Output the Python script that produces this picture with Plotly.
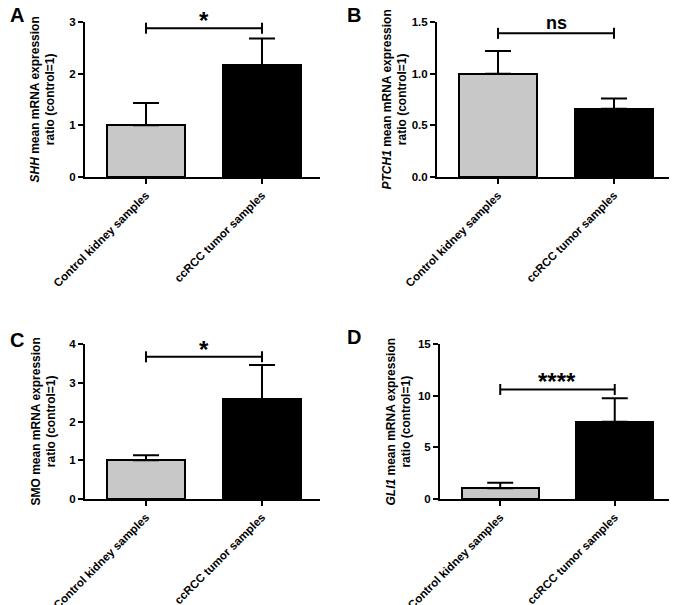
import plotly.graph_objects as go

categories = ["Control kidney samples", "ccRCC tumor samples"]
panel_letters = ["A", "B", "C", "D"]
genes = ["SHH", "PTCH1", "SMO", "GLI1"]
means = {
    "SHH": [1.0, 2.17],
    "PTCH1": [1.0, 0.66],
    "SMO": [1.0, 2.58],
    "GLI1": [1.05, 7.48],
}
errors = {
    "SHH": [0.43, 0.51],
    "PTCH1": [0.22, 0.10],
    "SMO": [0.13, 0.88],
    "GLI1": [0.53, 2.26],
}
y_ranges = {"SHH": [0, 3], "PTCH1": [0, 1.5], "SMO": [0, 4], "GLI1": [0, 15]}
y_ticks = {
    "SHH": [0, 1, 2, 3],
    "PTCH1": [0.0, 0.5, 1.0, 1.5],
    "SMO": [0, 1, 2, 3, 4],
    "GLI1": [0, 5, 10, 15],
}
y_ticktext = {
    "SHH": ["0", "1", "2", "3"],
    "PTCH1": ["0.0", "0.5", "1.0", "1.5"],
    "SMO": ["0", "1", "2", "3", "4"],
    "GLI1": ["0", "5", "10", "15"],
}
bracket_y = {"SHH": 2.88, "PTCH1": 1.39, "SMO": 3.67, "GLI1": 10.6}
significance = {"SHH": "*", "PTCH1": "ns", "SMO": "*", "GLI1": "****"}
gene_italic = {"SHH": True, "PTCH1": True, "SMO": False, "GLI1": True}

bar_colors = ["#c8c8c8", "#000000"]
OFF = 8  # default page body margin
W, H = 677 - OFF, 605 - OFF
FONT = "Liberation Sans, Arial, sans-serif"

# pixel layouts in page coordinates (left, right, top, bottom) of the plotting areas
px_boxes = [
    (85, 320, 22, 177),
    (437, 672, 22, 177),
    (85, 320, 344, 499),
    (440, 672, 344, 499),
]
letter_pos = [(17, 15), (354, 15), (17, 340), (354, 337)]
title_x = [43, 395, 43, 398]

fig = go.Figure()
annotations = []
x_positions = [0, 1]

for i, g in enumerate(genes):
    n = "" if i == 0 else str(i + 1)
    xa, ya = "x" + n, "y" + n
    l, r, t, b = [v - OFF for v in px_boxes[i]]
    ymax = y_ranges[g][1]
    axis_px = b - t
    fig.add_trace(go.Bar(
        x=x_positions, y=means[g], width=0.67,
        marker=dict(color=bar_colors, line=dict(color="black", width=2)),
        error_y=dict(type="data", array=errors[g], arrayminus=[0, 0], symmetric=False,
                     color="black", thickness=2, width=13),
        xaxis=xa, yaxis=ya, showlegend=False,
    ))
    by = bracket_y[g]
    tip = 5.5 * ymax / axis_px
    fig.add_trace(go.Scatter(
        x=[0, 0, None, 0, 1, None, 1, 1],
        y=[by - tip, by + tip, None, by, by, None, by - tip, by + tip],
        mode="lines", line=dict(color="black", width=2),
        xaxis=xa, yaxis=ya, showlegend=False, hoverinfo="skip",
    ))
    annotations.append(dict(
        x=0.5, y=by, xref=xa, yref=ya, text="<b>%s</b>" % significance[g],
        showarrow=False, yanchor="bottom", yshift=-2 if significance[g] == "ns" else -8,
        font=dict(family=FONT, size=24 if significance[g] != "ns" else 18, color="black"),
    ))
    xdom = [l / W, r / W]
    ydom = [1 - b / H, 1 - t / H]
    axis_common = dict(showline=True, linecolor="black", linewidth=2, ticks="outside",
                       tickwidth=2, ticklen=5, tickcolor="black", showgrid=False,
                       zeroline=False, automargin=False)
    fig.update_layout(**{
        ("xaxis" + n): dict(domain=xdom, anchor=ya, range=[-0.526, 1.5],
                           tickvals=x_positions, ticktext=["<b>%s</b>" % c for c in categories],
                           tickangle=-45, tickfont=dict(family=FONT, size=11.5, color="black"),
                           **axis_common),
        ("yaxis" + n): dict(domain=ydom, anchor=xa, range=y_ranges[g],
                           tickvals=y_ticks[g], ticktext=["<b>%s</b>" % s for s in y_ticktext[g]],
                           tickfont=dict(family=FONT, size=11.5, color="black"),
                           **axis_common),
    })
    gname = "<i>%s</i>" % g if gene_italic[g] else g
    annotations.append(dict(
        x=(title_x[i] - OFF) / W, y=1 - (t + b) / 2 / H, xref="paper", yref="paper",
        text="<b>%s mean mRNA expression<br>ratio (control=1)</b>" % gname,
        textangle=-90, showarrow=False, xanchor="center", yanchor="middle",
        font=dict(family=FONT, size=12, color="black"),
    ))
    lx, ly = letter_pos[i]
    annotations.append(dict(
        x=(lx - OFF) / W, y=1 - (ly - OFF) / H, xref="paper", yref="paper",
        text="<b>%s</b>" % panel_letters[i], showarrow=False,
        xanchor="center", yanchor="middle",
        font=dict(family=FONT, size=20, color="black"),
    ))

fig.update_layout(
    width=W, height=H, margin=dict(l=0, r=0, t=0, b=0),
    paper_bgcolor="white", plot_bgcolor="white",
    annotations=annotations, bargap=0,
)
fig.write_html("out.html")
